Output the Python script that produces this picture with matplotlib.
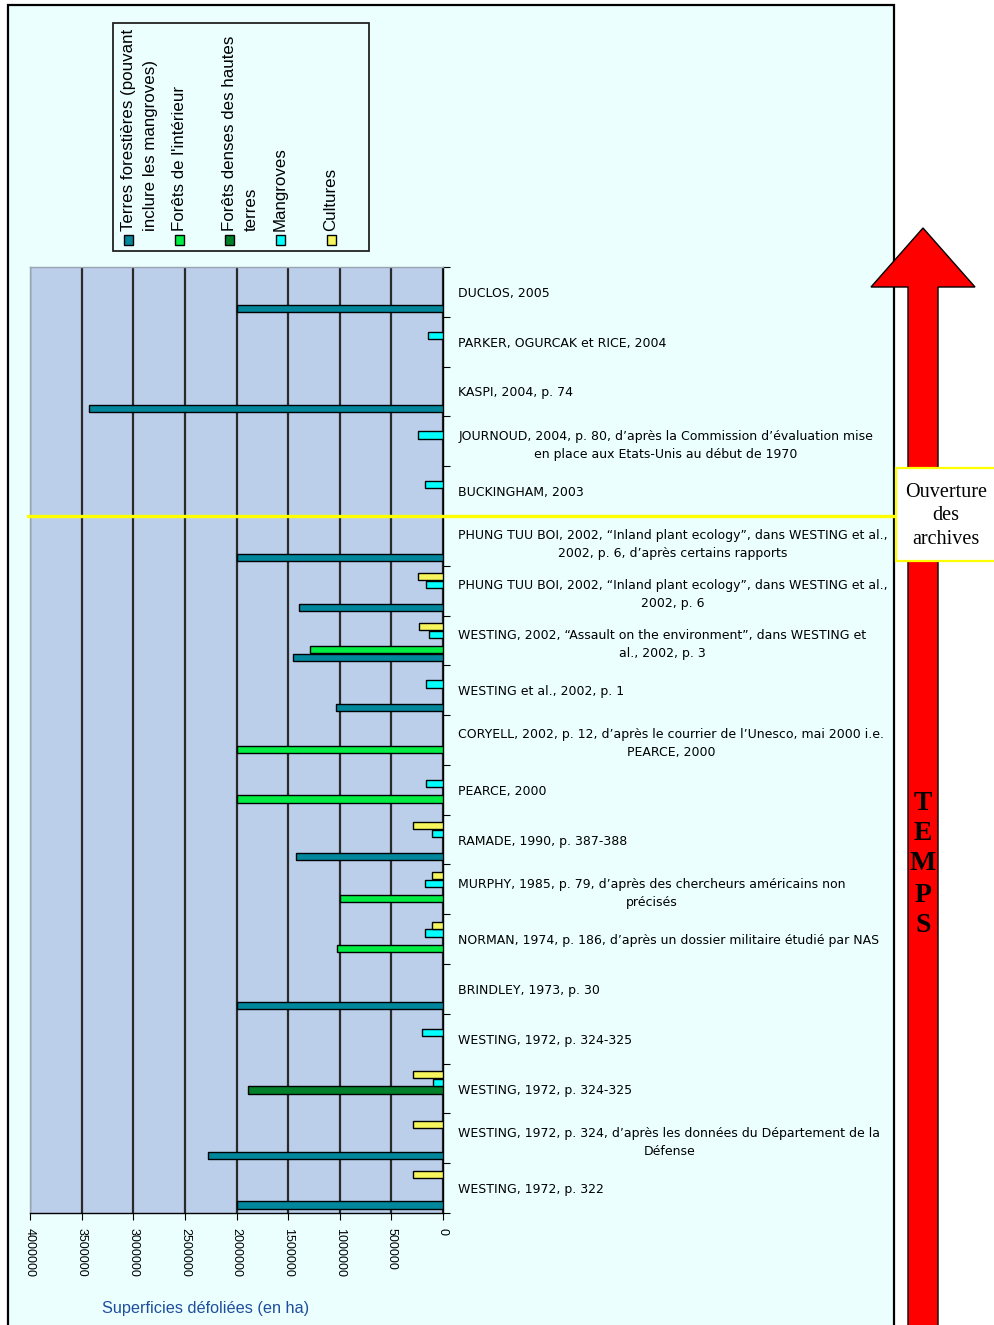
import numpy as np
import matplotlib
matplotlib.use("Agg")
import matplotlib.pyplot as plt
from matplotlib.patches import Rectangle, Polygon
from matplotlib.lines import Line2D

W, H = 994, 1325

sources = [
    "DUCLOS, 2005",
    "PARKER, OGURCAK et RICE, 2004",
    "KASPI, 2004, p. 74",
    "JOURNOUD, 2004, p. 80, d’après la Commission d’évaluation mise\nen place aux Etats-Unis au début de 1970",
    "BUCKINGHAM, 2003",
    "PHUNG TUU BOI, 2002, “Inland plant ecology”, dans WESTING et al.,\n2002, p. 6, d’après certains rapports",
    "PHUNG TUU BOI, 2002, “Inland plant ecology”, dans WESTING et al.,\n2002, p. 6",
    "WESTING, 2002, “Assault on the environment”, dans WESTING et\nal., 2002, p. 3",
    "WESTING et al., 2002, p. 1",
    "CORYELL, 2002, p. 12, d’après le courrier de l’Unesco, mai 2000 i.e.\nPEARCE, 2000",
    "PEARCE, 2000",
    "RAMADE, 1990, p. 387-388",
    "MURPHY, 1985, p. 79, d’après des chercheurs américains non\nprécisés",
    "NORMAN, 1974, p. 186, d’après un dossier militaire étudié par NAS",
    "BRINDLEY, 1973, p. 30",
    "WESTING, 1972, p. 324-325",
    "WESTING, 1972, p. 324-325",
    "WESTING, 1972, p. 324, d’après les données du Département de la\nDéfense",
    "WESTING, 1972, p. 322",
]

terres = [2000000, 0, 3430000, 0, 0, 2000000, 1390000, 1450000, 1040000, 0,
          0, 1425000, 0, 0, 2000000, 0, 0, 2275000, 2000000]
interieur = [0, 0, 0, 0, 0, 0, 0, 1290000, 0, 2000000,
             2000000, 0, 1000000, 1025000, 0, 0, 0, 0, 0]
denses = [0, 0, 0, 0, 0, 0, 0, 0, 0, 0,
          0, 0, 0, 0, 0, 0, 1890000, 0, 0]
mangroves = [0, 145000, 0, 245000, 170000, 0, 160000, 140000, 160000, 0,
             160000, 110000, 170000, 170000, 0, 200000, 100000, 0, 0]
cultures = [0, 0, 0, 0, 0, 0, 245000, 230000, 0, 0,
            0, 290000, 110000, 110000, 0, 0, 290000, 290000, 290000]

series = [terres, interieur, denses, mangroves, cultures]
legend_lines = [
    ["Terres forestières (pouvant", "inclure les mangroves)"],
    ["Forêts de l'intérieur"],
    ["Forêts denses des hautes", "terres"],
    ["Mangroves"],
    ["Cultures"],
]
colors = ["#00879C", "#00EE44", "#00802A", "#00FFFF", "#F6F65C"]
offsets = [2, 1, 0, -1, -2]

xticks = list(range(0, 4000001, 500000))


def fx(x):
    return x / W


def fy(y):
    return 1 - y / H


fig = plt.figure(figsize=(W / 100, H / 100), dpi=100, facecolor="white")

# background frame
fig.add_artist(Rectangle((fx(8), fy(1340)), fx(894) - fx(8), fy(5) - fy(1340),
                         transform=fig.transFigure, facecolor="#EBFFFF",
                         edgecolor="black", lw=1.6, zorder=-5))

ax = fig.add_axes([fx(30), fy(1213), fx(443) - fx(30), fy(267) - fy(1213)])
ax.set_facecolor("#BBCFEA")

n = len(sources)
ypos = np.arange(n)
slot = 0.155
bh = 0.145
for vals, col, off in zip(series, colors, offsets):
    vals = np.array(vals, dtype=float)
    m = vals > 0
    ax.barh(ypos[m] + off * slot + 0.03, vals[m], height=bh, color=col,
            edgecolor="black", lw=1.0, zorder=3)

ax.set_xlim(4000000, 0)
ax.set_ylim(n - 0.5, -0.5)
ax.set_xticks(xticks)
ax.set_xticklabels([str(v) for v in xticks], rotation=270,
                   family="Liberation Sans", fontsize=9)
ax.tick_params(axis="x", length=5, direction="out", pad=6)
ax.xaxis.grid(True, color="#2A2A2A", lw=1.6)
ax.set_axisbelow(True)

ax.yaxis.set_ticks_position("right")
ax.set_yticks(np.arange(-0.5, n, 1.0))
ax.set_yticklabels([])
ax.set_yticks(ypos, minor=True)
ax.set_yticklabels(sources, minor=True, multialignment="center",
                   family="DejaVu Sans", fontsize=9, linespacing=1.5)
ax.tick_params(axis="y", which="major", length=5, direction="out")
ax.tick_params(axis="y", which="minor", length=0, pad=11)

for s in ["bottom", "right"]:
    ax.spines[s].set_color("black")
    ax.spines[s].set_linewidth(1.0)
for s in ["top", "left"]:
    ax.spines[s].set_color("#9AA4B0")
    ax.spines[s].set_linewidth(1.0)

fig.text(fx(206), fy(1308), "Superficies défoliées (en ha)", ha="center",
         va="center", family="Liberation Sans", fontsize=11.7, color="#1F4E9C")

# legend (rotated)
fig.add_artist(Rectangle((fx(113), fy(251)), fx(369) - fx(113), fy(23) - fy(251),
                         transform=fig.transFigure, facecolor="#EBFFFF",
                         edgecolor="#222222", lw=1.3, zorder=1))
lx = [128, 179, 229, 280, 331]
for x0, lines, col in zip(lx, legend_lines, colors):
    fig.add_artist(Rectangle((fx(x0 - 4.5), fy(244.5)), 9 / W, 9 / H,
                             transform=fig.transFigure, facecolor=col,
                             edgecolor="black", lw=1.0, zorder=2))
    for k, line in enumerate(lines):
        fig.text(fx(x0 + 22 * k), fy(231), line, rotation=90,
                 rotation_mode="anchor", ha="left", va="center",
                 family="Liberation Sans", fontsize=12.2, zorder=2)

# archive opening line
fig.add_artist(Line2D([fx(28), fx(896)], [fy(516), fy(516)],
                      transform=fig.transFigure, color="#FFFF00", lw=2.4, zorder=4))

# time arrow
arrow = [(923, 228), (975, 287), (938, 287), (938, 1340), (908, 1340),
         (908, 287), (871, 287)]
fig.add_artist(Polygon([(fx(x), fy(y)) for x, y in arrow], closed=True,
                       transform=fig.transFigure, facecolor="#FF0000",
                       edgecolor="black", lw=1.0, zorder=3))
for ch, yy in zip("TEMPS", [803, 834, 864, 895, 925]):
    fig.text(fx(923), fy(yy), ch, ha="center", va="center",
             family="Liberation Serif", fontweight="bold", fontsize=20, zorder=5)

fig.add_artist(Rectangle((fx(896), fy(561)), fx(1000) - fx(896), fy(468) - fy(561),
                         transform=fig.transFigure, facecolor="white",
                         edgecolor="#FFFF00", lw=1.6, zorder=5))
fig.text(fx(946), fy(516), "Ouverture\ndes\narchives", ha="center", va="center",
         family="Liberation Serif", fontsize=14.5, linespacing=1.3, zorder=6)

fig.savefig("out.png", dpi=100, facecolor="white")
